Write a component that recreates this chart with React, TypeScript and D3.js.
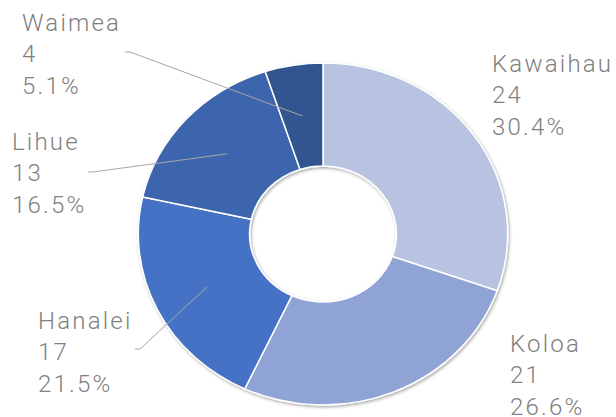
import { useEffect, useRef } from 'react';
import * as d3 from 'd3';

const districts = ['Kawaihau', 'Koloa', 'Hanalei', 'Lihue', 'Waimea'];
const counts = [24, 21, 17, 13, 4];
const colors = ['#B8C3E2', '#8FA3D4', '#4472C4', '#3D65AD', '#31548F'];
// which labels get a leader line back to their slice
const hasLeader = [false, false, true, true, true];

// label block placement (x, baseline of first line)
const labelPos: [number, number][] = [
  [492, 72],
  [510, 352],
  [38, 329],
  [12, 150],
  [22, 31],
];
const leaderStart: ([number, number] | null)[] = [null, null, [135, 349], [88, 172], [125, 52]];

export default function App() {
  const ref = useRef<SVGSVGElement | null>(null);

  useEffect(() => {
    if (!ref.current) return;
    const svg = d3.select(ref.current);
    svg.selectAll('*').remove();

    const width = 616;
    const height = 417;
    const cx = 323;
    const cy = 234;
    const sx = 1.08; // picture is slightly wider than tall
    const outer = 171;
    const inner = 68;

    svg.attr('width', width).attr('height', height);

    const defs = svg.append('defs');
    const f = defs
      .append('filter')
      .attr('id', 'shadow')
      .attr('x', '-20%')
      .attr('y', '-20%')
      .attr('width', '140%')
      .attr('height', '140%');
    f.append('feDropShadow')
      .attr('dx', 1)
      .attr('dy', 1.5)
      .attr('stdDeviation', 1.5)
      .attr('flood-color', '#000')
      .attr('flood-opacity', 0.35);

    const total = d3.sum(counts);
    const data = districts.map((name, i) => ({ name, value: counts[i], i }));

    const pie = d3
      .pie<{ name: string; value: number; i: number }>()
      .value(d => d.value)
      .sort(null);
    const arcs = pie(data);

    const arc = d3
      .arc<d3.PieArcDatum<{ name: string; value: number; i: number }>>()
      .innerRadius(inner)
      .outerRadius(outer);
    const mid = d3
      .arc<d3.PieArcDatum<{ name: string; value: number; i: number }>>()
      .innerRadius((inner + outer) / 2)
      .outerRadius((inner + outer) / 2);

    const g = svg
      .append('g')
      .attr('transform', `translate(${cx},${cy}) scale(${sx},1)`)
      .attr('filter', 'url(#shadow)');

    g.selectAll('path')
      .data(arcs)
      .enter()
      .append('path')
      .attr('d', arc)
      .attr('fill', d => colors[d.data.i])
      .attr('stroke', '#fff')
      .attr('stroke-width', 1.5)
      .attr('vector-effect', 'non-scaling-stroke');

    // leader lines
    arcs.forEach(d => {
      const s = leaderStart[d.data.i];
      if (!hasLeader[d.data.i] || !s) return;
      const [mx, my] = mid.centroid(d);
      const ex = cx + mx * sx;
      const ey = cy + my;
      svg
        .append('polyline')
        .attr('points', `${s[0]},${s[1]} ${s[0] + 5},${s[1]} ${ex},${ey}`)
        .attr('fill', 'none')
        .attr('stroke', '#A6A6A6')
        .attr('stroke-width', 1);
    });

    const fmt = d3.format('.1%');
    arcs.forEach(d => {
      const [lx, ly] = labelPos[d.data.i];
      const t = svg
        .append('text')
        .attr('x', lx)
        .attr('y', ly)
        .attr('fill', '#808080')
        .attr('font-family', 'Roboto, "Open Sans", sans-serif')
        .attr('font-weight', 300)
        .attr('font-size', 24)
        .attr('letter-spacing', 2.2);
      const lines = [d.data.name, String(d.data.value), fmt(d.data.value / total)];
      lines.forEach((line, k) => {
        t.append('tspan').attr('x', lx).attr('y', ly + k * 31.3).text(line);
      });
    });
  }, []);

  return (
    <svg
      ref={ref}
      style={{ position: 'absolute', left: 0, top: 0, display: 'block' }}
    ></svg>
  );
}
